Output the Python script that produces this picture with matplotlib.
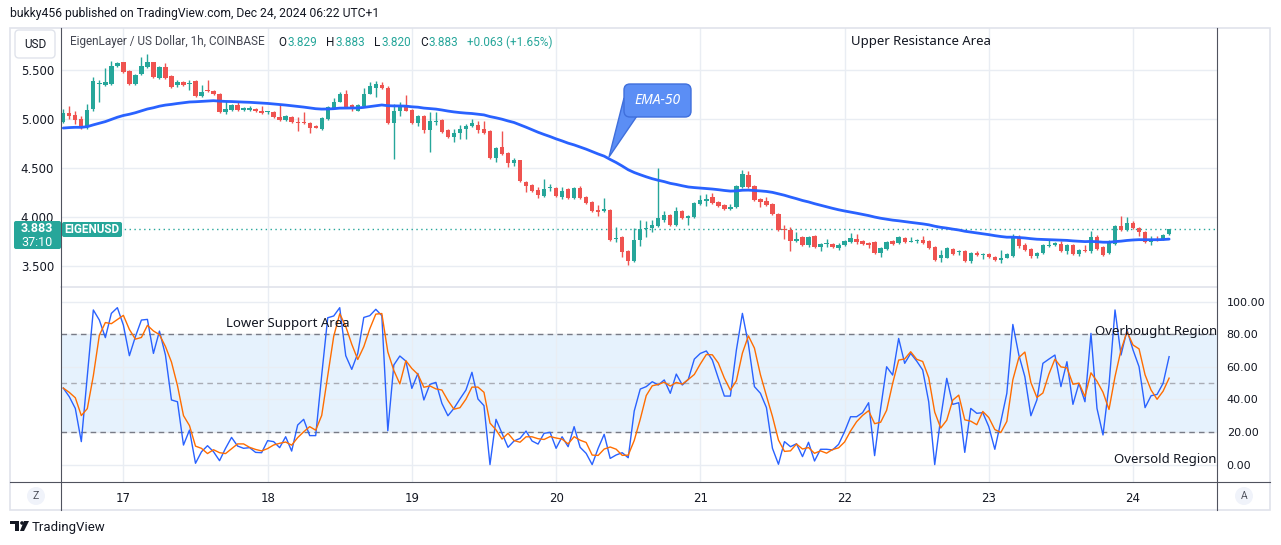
import numpy as np
import pandas as pd
import matplotlib
matplotlib.use('Agg')
import matplotlib.pyplot as plt
from matplotlib.patches import FancyBboxPatch, Polygon, Rectangle, Circle
from matplotlib.lines import Line2D
from matplotlib.transforms import IdentityTransform

# EIGENUSD 1h candles, 16 Dec 14:00 -> 24 Dec 06:00
O = [4.97,5.06,5.04,5.00,4.92,5.11,5.36,5.35,5.36,5.54,
     5.58,5.49,5.36,5.46,5.53,5.58,5.42,5.53,5.44,5.35,
     5.38,5.36,5.39,5.24,5.30,5.29,5.26,5.07,5.10,5.15,
     5.10,5.10,5.11,5.09,5.07,5.07,5.02,4.99,5.02,4.97,
     4.97,4.96,4.93,4.90,5.00,5.12,5.18,5.26,5.15,5.09,
     5.14,5.26,5.32,5.35,5.32,4.96,5.08,5.13,5.10,4.96,
     5.03,4.89,4.97,4.99,4.89,4.82,4.86,4.90,4.93,4.94,
     4.90,4.88,4.61,4.72,4.66,4.55,4.58,4.36,4.33,4.28,
     4.22,4.30,4.30,4.21,4.29,4.20,4.30,4.21,4.16,4.07,
     4.06,4.07,3.78,3.80,3.66,3.55,3.77,3.88,3.89,3.91,
     3.97,4.02,3.92,4.06,3.99,4.00,4.14,4.17,4.21,4.16,
     4.13,4.08,4.11,4.31,4.43,4.32,4.19,4.17,4.14,4.03,
     3.88,3.87,3.76,3.80,3.72,3.81,3.70,3.73,3.73,3.69,
     3.72,3.75,3.78,3.76,3.74,3.75,3.64,3.68,3.76,3.74,
     3.79,3.75,3.76,3.77,3.76,3.70,3.59,3.59,3.68,3.65,
     3.66,3.55,3.64,3.62,3.63,3.60,3.56,3.59,3.61,3.80,
     3.72,3.68,3.61,3.64,3.71,3.72,3.73,3.66,3.72,3.63,
     3.67,3.66,3.80,3.70,3.64,3.73,3.91,3.87,3.94,3.89,
     3.85,3.75,3.78,3.78,3.829]
H_ = [5.11,5.14,5.08,5.03,5.16,5.43,5.40,5.52,5.60,5.59,
      5.59,5.50,5.46,5.64,5.67,5.59,5.54,5.57,5.45,5.40,
      5.39,5.40,5.40,5.35,5.40,5.30,5.27,5.19,5.16,5.18,
      5.13,5.14,5.12,5.14,5.09,5.08,5.15,5.04,5.03,5.02,
      5.07,4.97,4.94,5.02,5.14,5.22,5.28,5.30,5.16,5.16,
      5.32,5.38,5.39,5.38,5.34,5.16,5.18,5.25,5.11,5.04,
      5.04,5.07,5.07,5.00,4.90,4.90,4.94,4.95,5.00,4.98,
      4.98,4.89,4.72,4.88,4.67,4.61,4.59,4.37,4.34,4.31,
      4.39,4.34,4.31,4.31,4.30,4.31,4.32,4.22,4.17,4.13,
      4.20,4.08,3.90,3.81,3.67,3.89,3.97,3.96,3.97,4.50,
      4.06,4.03,4.11,4.07,4.02,4.16,4.23,4.24,4.25,4.17,
      4.14,4.14,4.33,4.48,4.47,4.33,4.20,4.21,4.15,4.04,
      3.92,3.90,3.85,3.81,3.81,3.82,3.74,3.78,3.74,3.74,
      3.77,3.84,3.83,3.77,3.75,3.76,3.70,3.76,3.77,3.81,
      3.80,3.80,3.78,3.81,3.77,3.71,3.67,3.70,3.69,3.67,
      3.67,3.65,3.66,3.64,3.64,3.61,3.67,3.64,3.83,3.82,
      3.74,3.69,3.65,3.73,3.77,3.75,3.76,3.73,3.73,3.68,
      3.72,3.86,3.82,3.71,3.77,3.92,4.01,4.00,3.96,3.90,
      3.86,3.81,3.81,3.83,3.883]
L = [4.96,5.00,4.95,4.90,4.90,5.09,5.18,5.34,5.35,5.53,
     5.47,5.35,5.35,5.45,5.52,5.42,5.41,5.41,5.32,5.33,
     5.34,5.30,5.23,5.23,5.28,5.25,5.06,5.05,5.09,5.09,
     5.09,5.09,5.07,5.05,5.05,5.01,4.98,4.98,4.96,4.88,
     4.95,4.86,4.91,4.89,4.99,5.11,5.18,5.12,5.09,5.08,
     5.13,5.26,5.23,5.31,4.95,4.60,5.03,5.08,4.95,4.93,
     4.86,4.67,4.94,4.86,4.81,4.77,4.80,4.80,4.92,4.86,
     4.85,4.60,4.56,4.64,4.51,4.52,4.36,4.26,4.26,4.20,
     4.21,4.27,4.21,4.19,4.19,4.19,4.19,4.14,4.05,4.01,
     4.05,3.76,3.75,3.60,3.51,3.54,3.71,3.80,3.85,3.90,
     3.95,3.91,3.91,3.98,3.92,3.99,4.13,4.12,4.14,4.11,
     4.07,4.07,4.10,4.30,4.30,4.17,4.11,4.12,4.02,3.86,
     3.78,3.66,3.75,3.71,3.70,3.69,3.66,3.70,3.69,3.67,
     3.71,3.74,3.73,3.72,3.69,3.63,3.60,3.67,3.72,3.73,
     3.74,3.75,3.74,3.73,3.68,3.55,3.54,3.58,3.62,3.62,
     3.54,3.53,3.61,3.57,3.59,3.55,3.53,3.58,3.60,3.69,
     3.66,3.59,3.59,3.63,3.70,3.71,3.65,3.63,3.62,3.61,
     3.65,3.64,3.67,3.61,3.63,3.72,3.86,3.86,3.88,3.81,
     3.74,3.72,3.76,3.77,3.820]
C = [5.06,5.03,4.99,4.91,5.10,5.39,5.37,5.38,5.54,5.57,
     5.48,5.36,5.45,5.54,5.58,5.43,5.53,5.42,5.33,5.38,
     5.35,5.37,5.24,5.28,5.29,5.26,5.07,5.11,5.15,5.10,
     5.12,5.12,5.08,5.06,5.08,5.02,4.99,5.03,4.97,4.96,
     4.96,4.91,4.91,5.01,5.13,5.18,5.26,5.13,5.11,5.15,
     5.26,5.34,5.36,5.32,4.96,5.08,5.13,5.09,4.96,5.03,
     4.89,4.98,4.98,4.87,4.82,4.86,4.90,4.93,4.96,4.89,
     4.86,4.61,4.71,4.65,4.55,4.58,4.37,4.32,4.27,4.23,
     4.29,4.30,4.22,4.27,4.20,4.30,4.20,4.15,4.06,4.05,
     4.08,3.77,3.79,3.65,3.55,3.77,3.88,3.89,3.92,3.99,
     4.02,3.92,4.06,3.99,4.01,4.15,4.18,4.19,4.15,4.12,
     4.08,4.11,4.32,4.44,4.31,4.18,4.16,4.13,4.03,3.87,
     3.87,3.76,3.78,3.72,3.80,3.70,3.73,3.73,3.70,3.72,
     3.76,3.79,3.75,3.73,3.72,3.64,3.69,3.75,3.73,3.80,
     3.75,3.76,3.76,3.74,3.69,3.56,3.62,3.69,3.63,3.65,
     3.55,3.64,3.62,3.63,3.60,3.56,3.59,3.63,3.80,3.71,
     3.67,3.61,3.64,3.72,3.72,3.74,3.66,3.72,3.63,3.67,
     3.66,3.80,3.68,3.62,3.74,3.91,3.87,3.94,3.89,3.85,
     3.75,3.78,3.77,3.82,3.883]

# stochastic %K (blue)
K = [47,41.7,34.5,14.1,54.6,95,88.8,78,92.9,96.4,
     85.7,66.9,78.6,88.8,89.2,68.3,82,67.3,39.7,38.6,
     12,21.2,0.8,7.9,11.6,7.9,2.4,10,16.7,11.4,
     10,10.4,7.5,7.3,14.7,14.1,10.4,17.1,8.3,24.3,
     27.8,17.8,17.8,55,90.2,91.3,96.4,66.9,58.5,68.3,
     90.4,91.5,95.4,91.5,20.8,61.2,66.7,63.6,46.8,56,
     39.7,49.3,50.5,37.6,30,34.5,40.3,45.8,56.7,40.3,
     36.2,0,27.8,19.2,10.6,14.5,16.1,20.6,14.5,12.6,
     19.2,19.8,10,17.1,11,23.3,10.6,6.9,0,10,
     18.6,3.8,5.9,7.3,4.2,32.9,46.4,47.9,50.9,48.9,
     52,43.8,55.6,48.9,52.4,64.8,68.3,69.8,64.2,53,
     42.1,42.1,70.4,92.9,73.9,47.9,43.8,35,10,0.2,
     14.1,11,12.8,4.9,13.7,2.2,9.4,9.4,9,12.4,
     20.2,29.4,29.4,31.9,38,5.5,34.5,60.1,55,77.5,
     62.2,68.3,63.6,58.1,38.6,0,28.8,53,37,38,
     7.5,34.5,31.5,31.9,23.3,9.4,26.4,43.8,86.1,67.3,
     54,30,39.7,62.2,64.8,67.3,47.9,63.2,37,49.9,
     38.6,80.6,34.5,18.2,48.9,95,67.3,82.7,70.4,60.1,
     35,42.3,43.1,49.9,66.3]

day_labels = ['17', '18', '19', '20', '21', '22', '23', '24']
first_midnight = 10        # bar index of 17 Dec 00:00
EMA_LEN = 50
EMA_SEED = 4.905

UP, DN = '#26a69a', '#ef5350'
BLUE, ORANGE = '#2962ff', '#ff6d00'
GRID = '#e9edf3'
DARK = '#50535e'
TXT = '#131722'

W, H = 1281, 545
fig = plt.figure(figsize=(W / 100, H / 100), dpi=100)
fig.patch.set_facecolor('white')


def fx(x):
    return x / W


def fy(y):
    return 1 - y / H


def px_axes(x0, y0, x1, y1):
    return fig.add_axes([fx(x0), fy(y1), (x1 - x0) / W, (y1 - y0) / H])


ax = px_axes(61, 28, 1217, 287)
osc = px_axes(61, 287, 1217, 482)

n = len(C)
idx = np.arange(n)
o, h, l, c = map(np.array, (O, H_, L, C))
col = np.where(c >= o, UP, DN)

# candles
ax.vlines(idx, l, h, colors=col, lw=1, zorder=3)
body_lo = np.minimum(o, c)
body_h = np.maximum(np.abs(c - o), 0.008)
ax.bar(idx, body_h, bottom=body_lo, width=0.72, color=col, lw=0, zorder=4)

# EMA-50 from closes
alpha = 2 / (EMA_LEN + 1)
ema = []
e = EMA_SEED
for v in C:
    e = e + alpha * (v - e)
    ema.append(e)
ax.plot(idx, ema, color=BLUE, lw=2.0, zorder=5, solid_capstyle='round')

ax.axhline(C[-1], color=UP, lw=1, ls=(0, (1, 2.5)), zorder=2)

day_pos = [first_midnight + 24 * k for k in range(len(day_labels))]
xlim = (-0.38, 191.97)
ax.set_xlim(*xlim)
ax.set_ylim(3.289, 5.932)
ax.set_xticks(day_pos)
ax.set_xticklabels([])
ax.set_yticks([3.5, 4.0, 4.5, 5.0, 5.5])
ax.set_yticklabels(['%.3f' % v for v in [3.5, 4.0, 4.5, 5.0, 5.5]])
ax.tick_params(axis='both', length=0)
ax.tick_params(axis='y', pad=5, labelsize=8.5, labelcolor=TXT)
ax.grid(True, color=GRID, lw=1)
ax.set_axisbelow(True)
for s in ax.spines.values():
    s.set_visible(False)

# stochastic pane
D = pd.Series(K).rolling(3, min_periods=1).mean()
osc.axhspan(20, 80, color='#e6f2fd', lw=0, zorder=0)
for lvl, cc in [(80, '#787b86'), (50, '#a9acb5'), (20, '#787b86')]:
    osc.axhline(lvl, color=cc, lw=1, ls=(0, (4, 3)), zorder=1)
osc.plot(idx, K, color=BLUE, lw=1, zorder=3)
osc.plot(idx, D, color=ORANGE, lw=1, zorder=4)
osc.set_xlim(*xlim)
osc.set_ylim(-10.7, 109.1)
osc.set_xticks(day_pos)
osc.set_xticklabels(day_labels)
osc.set_yticks([0, 20, 40, 60, 80, 100])
osc.set_yticklabels(['%.2f' % v for v in [0, 20, 40, 60, 80, 100]])
osc.yaxis.tick_right()
osc.tick_params(axis='both', length=0, labelsize=8.5, labelcolor=TXT)
osc.tick_params(axis='y', pad=7, labelsize=8)
osc.tick_params(axis='x', pad=7)
osc.grid(True, color=GRID, lw=1)
osc.set_axisbelow(True)
for s in osc.spines.values():
    s.set_visible(False)


# frame lines
def fline(x0, y0, x1, y1, color, lw=0.8):
    fig.add_artist(Line2D([fx(x0), fx(x1)], [fy(y0), fy(y1)],
                          transform=fig.transFigure, color=color, lw=lw))


fig.add_artist(Rectangle((fx(10), fy(510)), 1260 / W, 482 / H,
                         transform=fig.transFigure, fill=False,
                         ec='#e0e3eb', lw=1.2))
fline(61, 287, 1217, 287, '#e0e3eb', 1.2)
fline(61, 28, 61, 510, DARK)
fline(1217, 28, 1217, 510, DARK)
fline(10, 482, 1270, 482, DARK)

ident = IdentityTransform()


def P(x, y):
    return (x, H - y)


# USD button
fig.add_artist(FancyBboxPatch(P(15, 58), 40, 28,
                              boxstyle='round,pad=0,rounding_size=4',
                              fc='white', ec='#e0e3eb', lw=1, transform=ident))
fig.text(fx(35), fy(44), 'USD', ha='center', va='center', fontsize=8.5,
         color=TXT, family='Roboto')

# last price tags
fig.add_artist(FancyBboxPatch(P(14, 249), 47, 28,
                              boxstyle='round,pad=0,rounding_size=2',
                              fc=UP, ec=UP, lw=0, transform=ident, zorder=6))
fig.text(fx(37), fy(229), '3.883', ha='center', va='center', fontsize=9,
         color='white', family='Roboto', weight='bold', zorder=7)
fig.text(fx(37), fy(242), '37:10', ha='center', va='center', fontsize=9,
         color='white', family='Roboto', zorder=7)
fig.add_artist(FancyBboxPatch(P(62, 237), 60, 15,
                              boxstyle='round,pad=0,rounding_size=2',
                              fc=UP, ec=UP, lw=0, transform=ident, zorder=6))
fig.text(fx(92), fy(229.5), 'EIGENUSD', ha='center', va='center', fontsize=8.5,
         color='white', family='Roboto', weight='bold', zorder=7)

# header texts
fig.text(fx(10), fy(14), 'bukky456 published on TradingView.com, Dec 24, 2024 06:22 UTC+1',
         ha='left', va='center', fontsize=8.7, color=TXT, family='Roboto')
fig.text(fx(70), fy(42), 'EigenLayer / US Dollar, 1h, COINBASE',
         ha='left', va='center', fontsize=8.5, color='#434651', family='Roboto')

# OHLC legend, laid out piece by piece
renderer = fig.canvas.get_renderer()
legend_parts = [('O', TXT, 0), ('3.829', UP, 8), ('H', TXT, 0), ('3.883', UP, 8),
                ('L', TXT, 0), ('3.820', UP, 8), ('C', TXT, 0), ('3.883', UP, 8),
                ('+0.063 (+1.65%)', UP, 0)]
x = 278
for s, cc, gap in legend_parts:
    t = fig.text(fx(x), fy(42), s, ha='left', va='center', fontsize=8.5, color=cc,
                 family='Roboto')
    x = t.get_window_extent(renderer).x1 + 1 + gap

# annotations
ann = dict(ha='center', va='center', fontsize=9.5, color=TXT, family='Noto Sans')
fig.text(fx(921), fy(41), 'Upper Resistance Area', **ann)
fig.text(fx(288), fy(324), 'Lower Support Area', **ann)
fig.text(fx(1156), fy(331), 'Overbought Region', **ann)
fig.text(fx(1165), fy(460), 'Oversold Region', **ann)

# EMA-50 callout
fig.add_artist(Polygon([P(624, 98), P(637, 116), P(609, 157)], closed=True,
                       fc='#5b8ef5', ec='#3f6fdc', lw=1, transform=ident, zorder=8))
fig.add_artist(FancyBboxPatch(P(624, 117), 67, 33,
                              boxstyle='round,pad=0,rounding_size=6',
                              fc='#5b8ef5', ec='#3f6fdc', lw=1, transform=ident,
                              zorder=9))
fig.text(fx(657), fy(100), 'EMA-50', ha='center', va='center', fontsize=10,
         color='white', style='italic', weight='bold', family='Noto Sans', zorder=10)

# Z / A buttons
for x, s in [(36, 'Z'), (1244, 'A')]:
    fig.add_artist(Circle(P(x, 496), 9, transform=ident, fc='#f0f3fa', ec='none'))
    fig.text(fx(x), fy(496), s, ha='center', va='center', fontsize=7.5,
             color='#50535e', family='Roboto')

# TradingView logo
fig.add_artist(Polygon([P(10, 521), P(19, 521), P(19, 531), P(15, 531), P(15, 524), P(10, 524)],
                       closed=True, fc=TXT, ec='none', transform=ident))
fig.add_artist(Circle(P(22, 523), 1.8, transform=ident, fc=TXT, ec='none'))
fig.add_artist(Polygon([P(24, 521), P(29, 521), P(24, 531), P(20, 531)],
                       closed=True, fc=TXT, ec='none', transform=ident))
fig.text(fx(32), fy(527), 'TradingView', ha='left', va='center', fontsize=9.5,
         color=TXT, family='Roboto')

fig.savefig('out.png', dpi=100)
